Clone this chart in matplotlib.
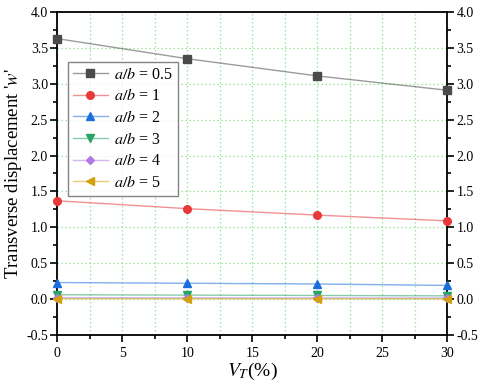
import matplotlib
matplotlib.use("Agg")
import matplotlib.pyplot as plt
from matplotlib.ticker import MultipleLocator
from matplotlib.colors import to_rgba

plt.rcParams['font.family'] = ['Liberation Serif', 'DejaVu Serif']
plt.rcParams['mathtext.fontset'] = 'stix'
plt.rcParams['axes.unicode_minus'] = False

vt = [0, 10, 20, 30]
labels = ['0.5', '1', '2', '3', '4', '5']
w05 = [3.63, 3.35, 3.11, 2.91]
w1 = [1.37, 1.26, 1.17, 1.09]
w2 = [0.23, 0.22, 0.21, 0.19]
w3 = [0.06, 0.055, 0.05, 0.045]
w4 = [0.02, 0.018, 0.016, 0.015]
w5 = [0.005, 0.004, 0.004, 0.003]
series = [w05, w1, w2, w3, w4, w5]
colors = ['#4a4a4a', '#e8383a', '#1a6fdc', '#27a567', '#b07ae3', '#d4a00e']
markers = ['s', 'o', '^', 'v', 'D', '<']

fig = plt.figure(figsize=(4.8, 3.89), dpi=100)
ax = fig.add_axes([0.119, 0.139, 0.813, 0.830])

for ys, lab, c, m in zip(series, labels, colors, markers):
    ax.plot(vt, ys, color=to_rgba(c, 0.55), lw=1.0, marker=m,
            markersize=5.5 if m != 'D' else 4.5,
            markerfacecolor=c, markeredgecolor=c, label=f'$a/b$ = {lab}',
            clip_on=False, zorder=3)

ax.set_xlim(0, 30)
ax.set_ylim(-0.5, 4.0)
ax.xaxis.set_major_locator(MultipleLocator(5))
ax.xaxis.set_minor_locator(MultipleLocator(2.5))
ax.yaxis.set_major_locator(MultipleLocator(0.5))
ax.yaxis.set_minor_locator(MultipleLocator(0.25))
ax.tick_params(axis='both', which='both', direction='out', labelsize=10, width=1.2)
ax.tick_params(which='major', length=5)
ax.tick_params(which='minor', length=3)
ax.tick_params(axis='y', which='both', right=True, labelright=True)
ax.tick_params(axis='y', which='major', pad=1.5)
ax.yaxis.set_major_formatter(matplotlib.ticker.FormatStrFormatter('%.1f'))
for s in ax.spines.values():
    s.set_linewidth(1.3)

ax.grid(True, which='major', axis='y', color='#9be39b', ls=(0, (1.2, 2)), lw=0.9)
ax.grid(True, which='both', axis='x', color='#9be39b', ls=(0, (1.2, 2)), lw=0.9)
ax.set_axisbelow(True)

ax.set_xlabel('$V_T$(%)', fontsize=14, labelpad=1)
ax.set_ylabel("Transverse displacement '$w$'", fontsize=13.5, labelpad=2)

leg = ax.legend(loc='upper left', bbox_to_anchor=(0.028, 0.845), fontsize=11.5, frameon=True,
                fancybox=False, edgecolor='#666666', handlelength=2.2, borderpad=0.3,
                labelspacing=0.35, handletextpad=0.4, borderaxespad=0)
leg.get_frame().set_linewidth(1.0)

fig.savefig('out.png', dpi=100)
